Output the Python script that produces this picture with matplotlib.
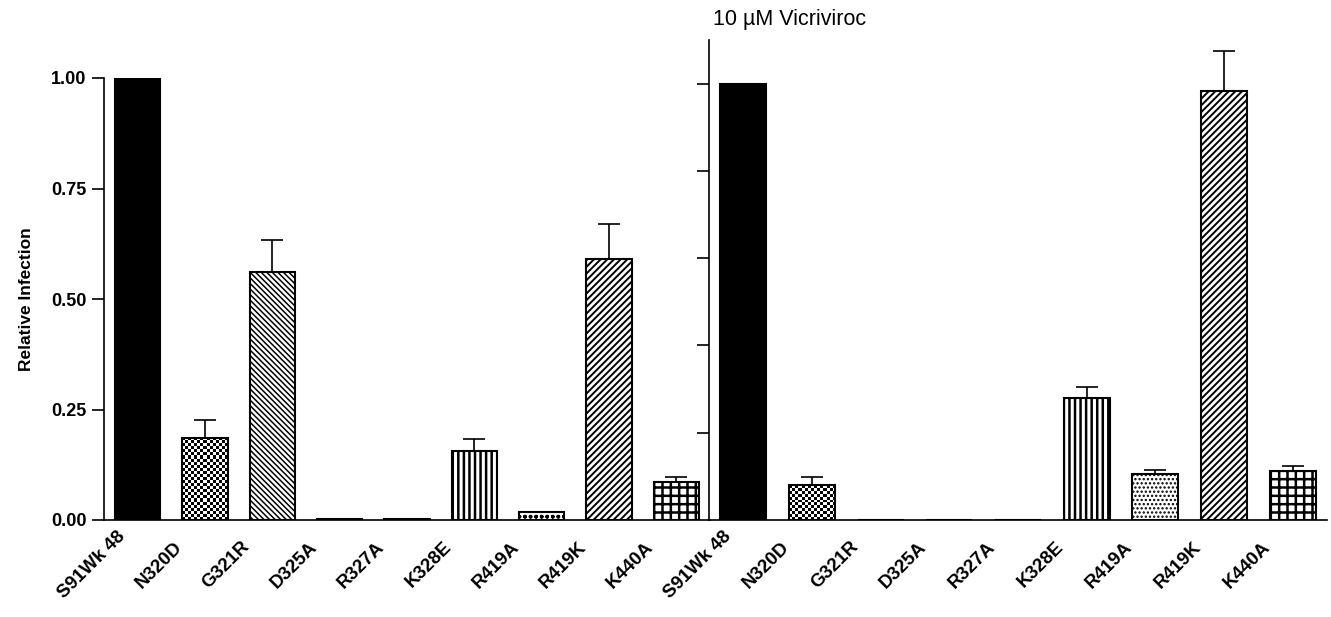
import matplotlib
matplotlib.use('Agg')
import matplotlib.pyplot as plt
from matplotlib.transforms import ScaledTranslation
import numpy as np

plt.rcParams['font.family'] = ['Liberation Sans', 'DejaVu Sans']
plt.rcParams['hatch.linewidth'] = 1.1

# data
mutants = ["S91Wk 48", "N320D", "G321R", "D325A", "R327A", "K328E", "R419A", "R419K", "K440A"]
noDrug = [1.0, 0.186, 0.560, 0.003, 0.003, 0.157, 0.017, 0.59, 0.086]
noDrugErr = [0.0, 0.040, 0.073, 0.0, 0.0, 0.026, 0.0, 0.08, 0.011]
vicriviroc = [1.0, 0.080, 0.0, 0.0, 0.0, 0.279, 0.105, 0.982, 0.112]
vicrivirocErr = [0.0, 0.018, 0.0, 0.0, 0.0, 0.026, 0.009, 0.092, 0.012]

hatchesLeft = [None, "checker", "\\" * 6, None, None, "|||", "ooo", "/////", "++"]
hatchesRight = [None, "checker", "\\" * 6, None, None, "|||", "....", "/////", "++"]
hatchWidths = {"|||": 1.8, "++": 1.8, "/////": 1.4}


def checker_fill(ax, bar, cell = 3.0):
	x0, y0 = bar.get_x(), bar.get_y()
	w, h = bar.get_width(), bar.get_height()
	p0 = ax.transData.transform((x0, y0))
	p1 = ax.transData.transform((x0 + w, y0 + h))
	nx = max(int(round((p1[0] - p0[0]) / cell)), 1)
	ny = max(int(round((p1[1] - p0[1]) / cell)), 1)
	grid = np.indices((ny, nx)).sum(axis = 0) % 2
	ax.imshow(grid, cmap = "gray", extent = (x0, x0 + w, y0, y0 + h), aspect = "auto",
		interpolation = "nearest", zorder = 1)


def draw_panel(ax, values, errors, hatches, ylim, yticks):
	x = np.arange(len(mutants))
	ax.set_xlim(-0.5, len(mutants) - 0.5)
	ax.set_ylim(*ylim)
	for i, (v, hatch) in enumerate(zip(values, hatches)):
		if hatch is None:
			face = "black" if i == 0 else "white"
			ax.bar(x[i], v, width = 0.67, color = face, edgecolor = "black", linewidth = 1.5, zorder = 2)
		elif hatch == "checker":
			bars = ax.bar(x[i], v, width = 0.67, facecolor = "none", edgecolor = "black", linewidth = 1.5, zorder = 2)
			checker_fill(ax, bars[0])
		else:
			bars = ax.bar(x[i], v, width = 0.67, color = "white", edgecolor = "black", hatch = hatch, linewidth = 1.5, zorder = 2)
			if hatch in hatchWidths and hasattr(bars[0], "set_hatch_linewidth"):
				bars[0].set_hatch_linewidth(hatchWidths[hatch])
	err = np.array(errors)
	mask = err > 0
	ax.errorbar(x[mask], np.array(values)[mask], yerr = [np.zeros(mask.sum()), err[mask]], fmt = "none",
		ecolor = "black", elinewidth = 1.2, capsize = 8, capthick = 1.2, zorder = 1.5)
	ax.set_xlim(-0.5, len(mutants) - 0.5)
	ax.set_ylim(*ylim)
	ax.set_yticks(yticks)
	ax.set_xticks([])
	ax.spines["top"].set_visible(False)
	ax.spines["right"].set_visible(False)
	ax.spines["left"].set_linewidth(1.2)
	ax.spines["bottom"].set_linewidth(1.2)
	ax.tick_params(axis = "y", direction = "out", length = 9, width = 1.2)

	offset = ScaledTranslation(-0.46, -0.45, ax.figure.dpi_scale_trans)
	for xi, name in zip(x, mutants):
		ax.text(xi, 0, name, transform = ax.get_xaxis_transform() + offset, rotation = 45,
			ha = "center", va = "center", rotation_mode = "anchor", fontsize = 13.5, fontweight = "bold")


fig = plt.figure(figsize = (13.31, 6.17), dpi = 100)
axLeft = fig.add_axes([104 / 1331, 97 / 617, 606 / 1331, 442 / 617])
axRight = fig.add_axes([709 / 1331, 97 / 617, 618 / 1331, 480 / 617])

draw_panel(axLeft, noDrug, noDrugErr, hatchesLeft, (0, 1.0), [0, 0.25, 0.5, 0.75, 1.0])
axLeft.set_yticklabels(["0.00", "0.25", "0.50", "0.75", "1.00"], fontsize = 13, fontweight = "bold")
axLeft.set_ylabel("Relative Infection", fontsize = 12.5, fontweight = "bold", labelpad = 12)

draw_panel(axRight, vicriviroc, vicrivirocErr, hatchesRight, (0, 1.1), [0.2, 0.4, 0.6, 0.8, 1.0])
axRight.set_yticklabels([])
axRight.text(0.006, 1.042, "10 \u00b5M Vicriviroc", transform = axRight.transAxes, fontsize = 15.5,
	ha = "left", va = "center")

fig.savefig("out.png", dpi = 100)
